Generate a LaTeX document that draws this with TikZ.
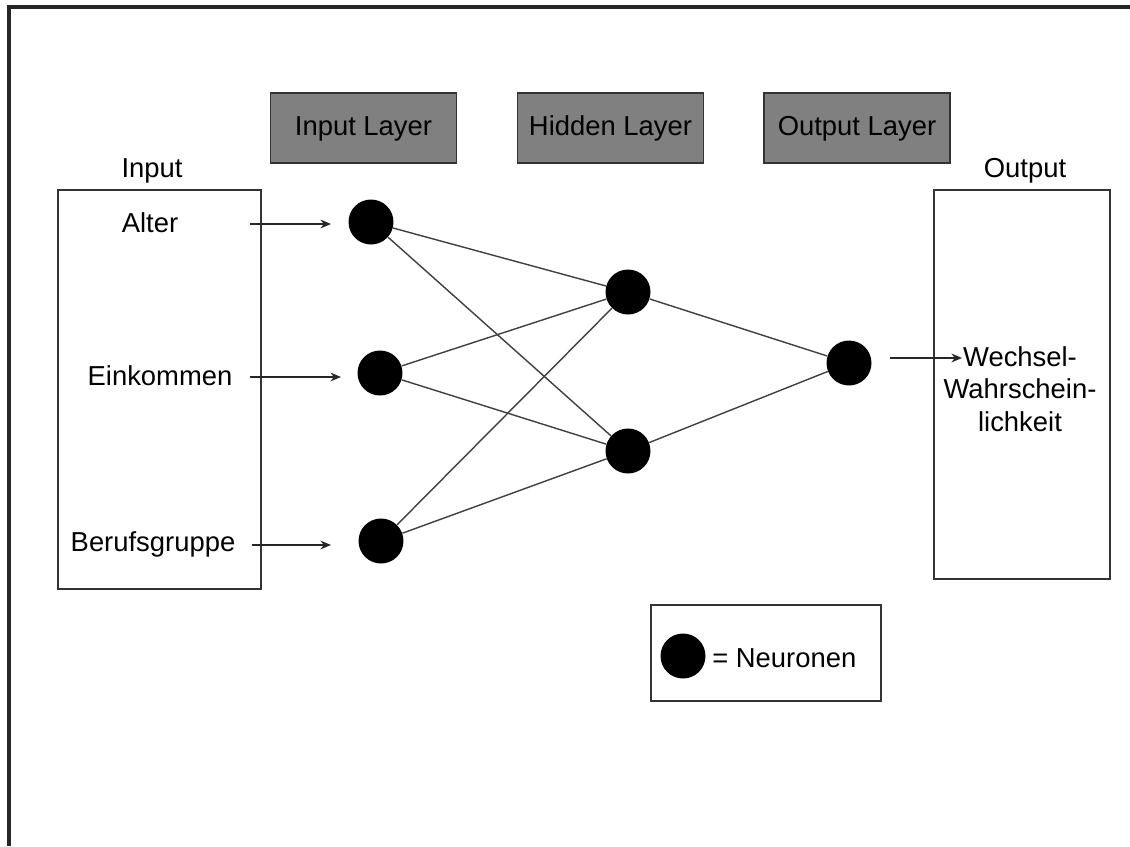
\documentclass[tikz,border=0pt]{standalone}
\usepackage{fontspec}
\setmainfont{Liberation Sans}
\usetikzlibrary{arrows.meta}
\begin{document}
\begin{tikzpicture}[x=0.02cm,y=-0.02cm,
  txt/.style={font=\fontsize{15.6}{18.5}\selectfont, inner sep=0pt},
  layerbox/.style={draw=black!80, line width=1pt, fill=black!50, minimum width=3.72cm, minimum height=1.4cm, text depth=0.5ex, font=\fontsize{15.6}{18.5}\selectfont},
  frame/.style={draw=black!80, line width=1pt},
  neuron/.style={circle, fill=black, minimum size=0.9cm, inner sep=0pt},
  link/.style={draw=black!75, line width=0.8pt},
  feed/.style={draw=black!85, line width=0.9pt, -{Stealth[length=6pt,width=5pt]}}
]
\useasboundingbox (0,0) rectangle (1130,846);
\fill[white] (0,0) rectangle (1130,846);
% outer frame (top and left edges)
\draw[black!85, line width=2pt] (9,846) -- (9,7) -- (1130,7);

% layer headings
\node[layerbox] (il) at (363.5,128) {Input Layer};
\node[layerbox] (hl) at (610.5,128) {Hidden Layer};
\node[layerbox] (ol) at (857,128) {Output Layer};

% input box
\draw[frame] (58,190) rectangle (261,589);
\node[txt] (inlab) at (152,171) {Input};
\node[txt] (alter) at (150,223) {Alter};
\node[txt] (eink) at (160,376) {Einkommen};
\node[txt] (beruf) at (153,544) {Berufsgruppe};

% output box
\draw[frame] (934,190) rectangle (1110,579);
\node[txt] (outlab) at (1025,171) {Output};
\node[txt, align=center] (wech) at (1020,389) {Wechsel-\\Wahrschein-\\lichkeit};

% neurons
\node[neuron] (i1) at (371,222) {};
\node[neuron] (i2) at (380,373) {};
\node[neuron] (i3) at (381,541) {};
\node[neuron] (h1) at (628,292) {};
\node[neuron] (h2) at (628,451) {};
\node[neuron] (o1) at (849,363) {};

% weights
\foreach \a in {i1,i2,i3}{
  \foreach \b in {h1,h2}{
    \draw[link] (\a) -- (\b);
  }
}
\draw[link] (h1) -- (o1);
\draw[link] (h2) -- (o1);

% input feeds
\coordinate (s1) at (250,224); \coordinate (e1) at (331,224);
\coordinate (s2) at (250,377); \coordinate (e2) at (341,377);
\coordinate (s3) at (252,545); \coordinate (e3) at (331,545);
\draw[feed] (s1) -- (e1);
\draw[feed] (s2) -- (e2);
\draw[feed] (s3) -- (e3);

% output feed
\coordinate (s4) at (890,358); \coordinate (e4) at (962,358);
\draw[feed] (s4) -- (e4);

% legend
\draw[frame] (651,605) rectangle (881,701);
\node[neuron] (leg) at (683,656) {};
\node[txt, anchor=west] (legtxt) at (712,658) {= Neuronen};
\end{tikzpicture}
\end{document}
